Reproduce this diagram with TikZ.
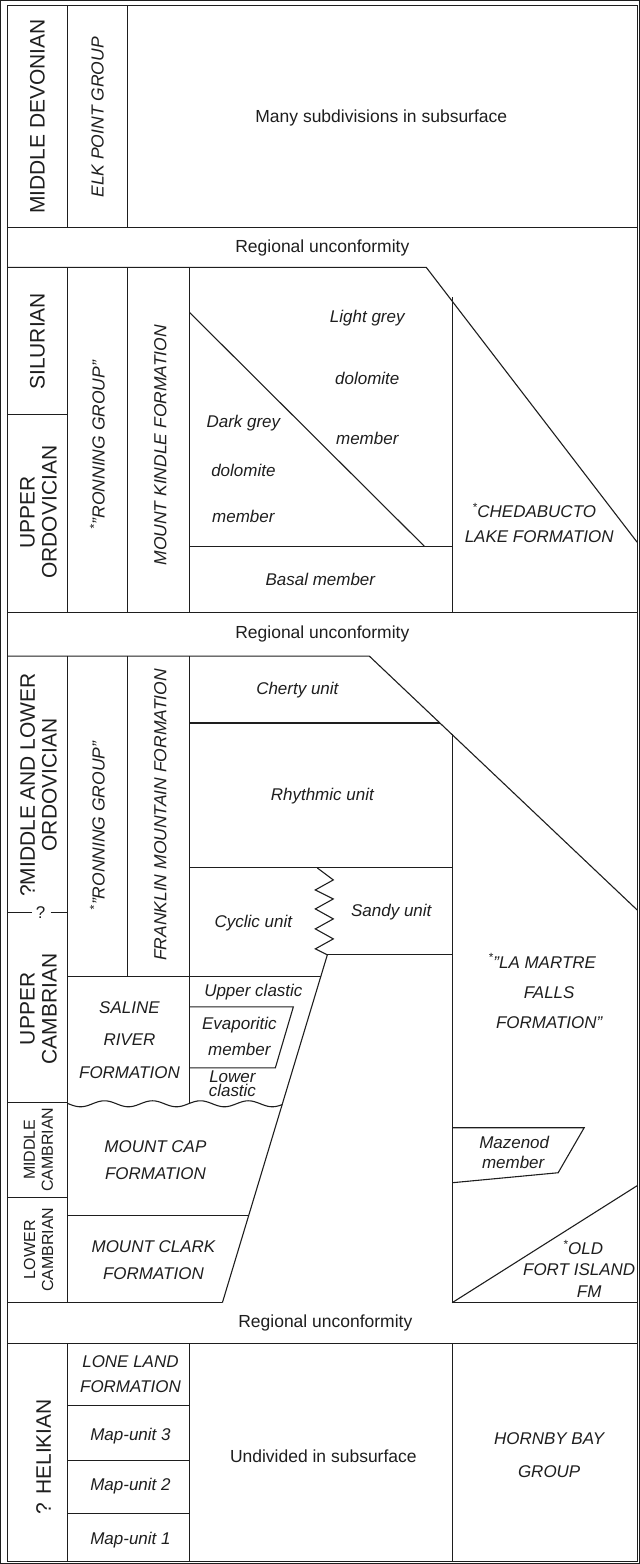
\documentclass[tikz,border=0pt]{standalone}
\usepackage{fontspec}
\setmainfont{Liberation Sans}
\definecolor{ink}{HTML}{1E1E1E}
\newcommand{\mystar}{\textsuperscript{*}}
\begin{document}
\begin{tikzpicture}[x=1pt,y=-1pt,
  every path/.style={draw=ink, line width=1.1pt, line join=miter},
  every node/.style={text=ink, inner sep=0pt},
  era/.style={font=\fontsize{21}{22}\selectfont, rotate=90, align=center},
  smallera/.style={font=\fontsize{16}{18}\selectfont, rotate=90, align=center},
  vfm/.style={font=\itshape\fontsize{17.5}{20}\selectfont, rotate=90},
  lbl/.style={font=\fontsize{17.5}{20}\selectfont},
  fm/.style={font=\itshape\fontsize{17}{20}\selectfont},
  mem/.style={font=\itshape\fontsize{17}{20}\selectfont}]
\useasboundingbox (0,0) rectangle (639,1564);
% outer frame
\draw (7,5) rectangle (637,1562);
% ---- Middle Devonian
\draw (7,227) -- (637,227);
\draw (67,5) -- (67,227);
\draw (127,5) -- (127,227);
% ---- Silurian / Upper Ordovician
\draw (7,267) -- (426,267) -- (637,542);
\draw (67,267) -- (67,612);
\draw (127,267) -- (127,612);
\draw (189,267) -- (189,612);
\draw (452,297) -- (452,612);
\draw (7,414) -- (67,414);
\draw (189,312) -- (424,546);
\draw (189,546) -- (452,546);
\draw (7,612) -- (637,612);
% ---- Ordovician / Cambrian
\draw (7,656) -- (369,656) -- (637,910);
\draw (189,723) -- (440,723);
\draw (452,734) -- (452,1303);
\draw (189,868) -- (452,868);
\draw (317,868) -- (333,880) -- (315,890) -- (333,899) -- (315,909) -- (333,919) -- (315,929) -- (333,939) -- (315,949) -- (327,955);
\draw (327,955) -- (452,955);
\draw (327,955) -- (222,1303);
\draw (7,913) -- (31,913);
\draw (50,913) -- (67,913);
\draw (67,656) -- (67,1303);
\draw (127,656) -- (127,977);
\draw (189,656) -- (189,1104);
\draw (67,977) -- (320.4,977);
\draw (189,1007) -- (293,1007) -- (275,1068) -- (189,1068);
\draw (7,1103) -- (67,1103);
\draw plot[domain=67:282, samples=120, smooth] (\x, {1104+3*cos((\x-80)*7.5)});
\draw (7,1198) -- (67,1198);
\draw (67,1216) -- (248.3,1216);
\draw (7,1303) -- (222,1303);
\draw (452,1303) -- (637,1303);
\draw (452,1128) -- (584,1128) -- (558,1173) -- (452,1183);
\draw (452,1303) -- (637,1186);
% ---- Helikian
\draw (7,1344) -- (637,1344);
\draw (67,1344) -- (67,1562);
\draw (189,1344) -- (189,1562);
\draw (452,1344) -- (452,1562);
\draw (67,1406) -- (189,1406);
\draw (67,1461) -- (189,1461);
\draw (67,1514) -- (189,1514);
% ================= texts
\node[era] (mdev) at (37,116) {MIDDLE DEVONIAN};
\node[vfm] (elk) at (97,117) {ELK POINT GROUP};
\node[lbl] (many) at (381,118) {Many subdivisions in subsurface};
\node[lbl] (ru1) at (322,248) {Regional unconformity};
\node[era] (sil) at (37,341) {SILURIAN};
\node[era] (uord) at (38,512) {UPPER\\ORDOVICIAN};
\node[vfm] (ron1) at (97,445) {\mystar''RONNING GROUP''};
\node[vfm] (mk) at (160,445) {MOUNT KINDLE FORMATION};
\node[mem] (lg1) at (367,318) {Light grey};
\node[mem] (lg2) at (367,378) {dolomite};
\node[mem] (lg3) at (367,438) {member};
\node[mem] (dg1) at (243,423) {Dark grey};
\node[mem] (dg2) at (243,470) {dolomite};
\node[mem] (dg3) at (243,516) {member};
\node[fm] (ch1) at (534,510) {\mystar CHEDABUCTO};
\node[fm] (ch2) at (539,536) {LAKE FORMATION};
\node[mem] (basal) at (320,579) {Basal member};
\node[lbl] (ru2) at (322,634) {Regional unconformity};
\node[era] (mlo) at (38,785) {?MIDDLE AND LOWER\\ORDOVICIAN};
\node (q) at (40,913) {\fontsize{17}{20}\selectfont ?};
\node[vfm] (ron2) at (97,826) {\mystar''RONNING GROUP''};
\node[vfm] (fmf) at (160,815) {FRANKLIN MOUNTAIN FORMATION};
\node[mem] (cherty) at (297,690) {Cherty unit};
\node[mem] (rhy) at (322,796) {Rhythmic unit};
\node[mem] (cyc) at (253,923) {Cyclic unit};
\node[mem] (sandy) at (391,912) {Sandy unit};
\node[era] (ucam) at (38,1009) {UPPER\\CAMBRIAN};
\node[fm] (sal1) at (129,1008) {SALINE};
\node[fm] (sal2) at (129,1040) {RIVER};
\node[fm] (sal3) at (129,1073) {FORMATION};
\node[mem] (uc) at (253,992) {Upper clastic};
\node[mem] (ev1) at (239,1025) {Evaporitic};
\node[mem] (ev2) at (239,1050) {member};
\node[mem] (lc1) at (232,1077) {Lower};
\node[mem] (lc2) at (232,1091) {clastic};
\node[fm] (lm1) at (542,961) {\mystar''LA MARTRE};
\node[fm] (lm2) at (549,993) {FALLS};
\node[fm] (lm3) at (549,1023) {FORMATION''};
\node[smallera] (mcam) at (38,1150) {MIDDLE\\CAMBRIAN};
\node[fm] (mc1) at (155,1147) {MOUNT CAP};
\node[fm] (mc2) at (155,1174) {FORMATION};
\node[mem] (maz1) at (514,1143) {Mazenod};
\node[mem] (maz2) at (513,1163) {member};
\node[smallera] (lcam) at (38,1250) {LOWER\\CAMBRIAN};
\node[fm] (mcl1) at (153,1247) {MOUNT CLARK};
\node[fm] (mcl2) at (153,1274) {FORMATION};
\node[fm] (of1) at (583,1248) {\mystar OLD};
\node[fm] (of2) at (579,1270) {FORT ISLAND};
\node[fm] (of3) at (589,1292) {FM};
\node[lbl] (ru3) at (325,1323) {Regional unconformity};
\node[era] (hel) at (43,1457) {? HELIKIAN};
\node[fm] (ll1) at (130,1362) {LONE LAND};
\node[fm] (ll2) at (130,1387) {FORMATION};
\node[mem] (mu3) at (130,1437) {Map-unit 3};
\node[mem] (mu2) at (130,1487) {Map-unit 2};
\node[mem] (mu1) at (130,1541) {Map-unit 1};
\node[lbl] (undiv) at (323,1457) {Undivided in subsurface};
\node[fm] (hb1) at (549,1439) {HORNBY BAY};
\node[fm] (hb2) at (549,1472) {GROUP};
\end{tikzpicture}
\end{document}
